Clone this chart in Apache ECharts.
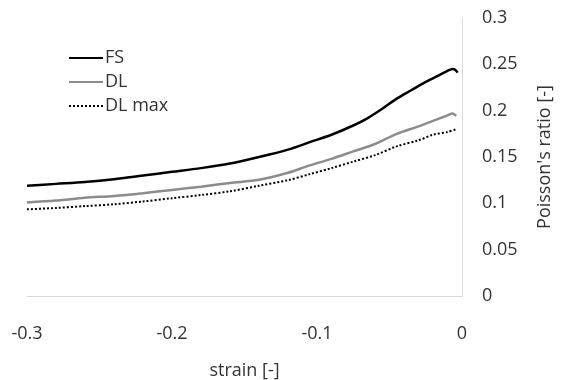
<!DOCTYPE html>
<html>
<head>
<meta charset="utf-8">
<script src="https://cdn.jsdelivr.net/npm/echarts@6/dist/echarts.min.js"></script>
<style>html,body{margin:0;padding:0;background:#fff}#c{width:563px;height:380px}</style>
</head>
<body>
<div id="c"></div>
<script>
const fsStrain = [-0.3,-0.28,-0.26,-0.24,-0.22,-0.2,-0.18,-0.16,-0.14,-0.12,-0.105,-0.09,-0.075,-0.065,-0.055,-0.045,-0.035,-0.025,-0.015,-0.01,-0.0065,-0.0045,-0.003];
const fsRatio  = [0.119,0.121,0.123,0.126,0.130,0.134,0.138,0.143,0.150,0.158,0.166,0.174,0.184,0.192,0.202,0.213,0.222,0.231,0.239,0.243,0.245,0.244,0.241];
const dlStrain = [-0.3,-0.28,-0.26,-0.24,-0.22,-0.2,-0.18,-0.16,-0.14,-0.12,-0.105,-0.09,-0.075,-0.06,-0.045,-0.03,-0.02,-0.01,-0.0065,-0.004];
const dlRatio  = [0.101,0.103,0.106,0.108,0.111,0.1145,0.118,0.122,0.1255,0.133,0.141,0.148,0.156,0.164,0.175,0.183,0.189,0.195,0.197,0.1945];
const dlmStrain = [-0.3,-0.28,-0.26,-0.24,-0.22,-0.2,-0.18,-0.16,-0.14,-0.12,-0.105,-0.09,-0.075,-0.06,-0.045,-0.03,-0.02,-0.01,-0.004];
const dlmRatio  = [0.0935,0.095,0.097,0.099,0.102,0.1055,0.109,0.113,0.119,0.125,0.1315,0.138,0.145,0.152,0.1615,0.168,0.174,0.177,0.180];
const seriesNames = ['FS','DL','DL max'];
const xTitle = 'strain [-]';
const yTitle = "Poisson's ratio [-]";

const zip = (a,b) => a.map((v,i)=>[v,b[i]]);
const font = 'Open Sans';
const txt = '#333333';
const fs = 18;
const chart = echarts.init(document.getElementById('c'));
chart.setOption({
  animation:false,
  textStyle:{fontFamily:font},
  grid:{left:27,right:101,top:18,bottom:84,containLabel:false,outerBoundsMode:'none'},
  legend:{
    orient:'vertical',left:63,top:44,itemWidth:34,itemHeight:14,itemGap:6,
    itemStyle:{opacity:0},
    textStyle:{fontFamily:font,fontSize:fs,color:txt,padding:[0,0,0,-3]},
    data:seriesNames
  },
  xAxis:{
    type:'value',min:-0.3,max:0,interval:0.1,
    name:xTitle,nameLocation:'middle',nameGap:66,
    nameTextStyle:{fontFamily:font,fontSize:fs,color:txt},
    axisLine:{show:true,onZero:false,lineStyle:{color:'#d9d9d9',width:1}},
    axisTick:{show:false},splitLine:{show:false},
    axisLabel:{fontFamily:font,fontSize:fs,color:txt,margin:29,formatter:v=>String(Math.round(v*10)/10)}
  },
  yAxis:{
    type:'value',position:'right',min:0,max:0.3,interval:0.05,
    name:yTitle,nameLocation:'middle',nameGap:74,nameRotate:90,
    nameTextStyle:{fontFamily:font,fontSize:fs,color:txt},
    axisLine:{show:true,lineStyle:{color:'#d9d9d9',width:1}},
    axisTick:{show:false},splitLine:{show:false},
    axisLabel:{fontFamily:font,fontSize:fs,color:txt,margin:20,formatter:v=>String(Math.round(v*100)/100)}
  },
  series:[
    {name:seriesNames[0],type:'line',data:zip(fsStrain,fsRatio),showSymbol:false,symbol:'none',smooth:0.3,
      lineStyle:{color:'#000',width:2.5},itemStyle:{color:'#000'}},
    {name:seriesNames[1],type:'line',data:zip(dlStrain,dlRatio),showSymbol:false,symbol:'none',smooth:0.3,
      lineStyle:{color:'#8c8c8c',width:2.5},itemStyle:{color:'#8c8c8c'}},
    {name:seriesNames[2],type:'line',data:zip(dlmStrain,dlmRatio),showSymbol:false,symbol:'none',smooth:0.3,
      lineStyle:{color:'#000',width:2,type:[2,2]},itemStyle:{color:'#000'}}
  ]
});
</script>
</body>
</html>
